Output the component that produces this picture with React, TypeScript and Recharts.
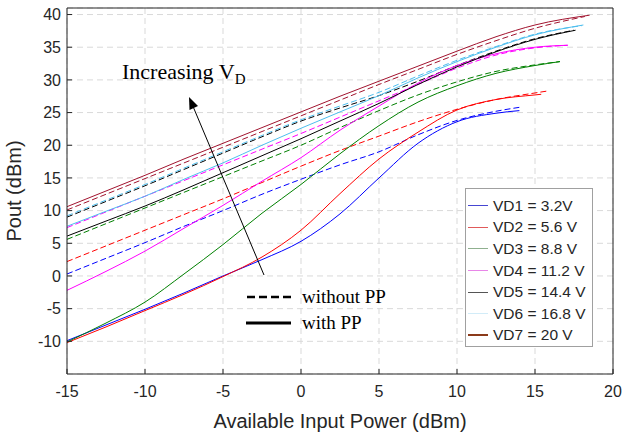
import React from 'react';
import { LineChart, Line, XAxis, YAxis, CartesianGrid, Legend } from 'recharts';

// input power grid (dBm) shared by every curve, each curve adds its own last point
const inputPower = [-15, -12.5, -10, -7.5, -5, -2.5, 0, 2.5, 5, 7.5, 10, 12.5, 15];

// with PP (solid)
const vd1With = [-9.9, -7.5, -5.1, -2.6, 0.0, 2.5, 5.3, 9.5, 15.0, 20.3, 23.6, 24.9];
const vd2With = [-10.2, -7.8, -5.3, -2.8, -0.1, 2.9, 7.0, 12.6, 17.9, 22.0, 25.4, 27.0, 27.7];
const vd3With = [-10.1, -7.2, -4.0, 0.3, 4.8, 9.6, 14.0, 18.7, 23.0, 26.6, 29.1, 31.0, 32.2];
const vd4With = [-2.2, 0.7, 3.8, 7.3, 10.8, 14.5, 18.1, 22.3, 26.0, 29.5, 32.2, 34.0, 35.0];
const vd5With = [6.1, 8.4, 10.7, 13.2, 15.8, 18.4, 21.0, 23.7, 26.4, 29.3, 32.0, 34.3, 36.2];
const vd6With = [7.6, 9.9, 12.2, 14.8, 17.3, 20.0, 22.6, 25.1, 27.6, 30.3, 32.8, 35.0, 36.9];
const vd7With = [10.6, 13.0, 15.4, 17.9, 20.3, 22.7, 25.1, 27.5, 29.8, 32.1, 34.4, 36.6, 38.4];
const withEnds = [[14.0, 25.3], [15.4, 27.8], [16.6, 32.8], [17.1, 35.3], [17.6, 37.6], [18.1, 38.4], [18.5, 39.9]];

// without PP (dashed)
const vd1Without = [0.3, 2.7, 5.1, 7.6, 10.0, 12.5, 14.8, 17.0, 19.0, 21.6, 23.8, 25.2];
const vd2Without = [2.2, 4.6, 7.0, 9.4, 11.8, 14.3, 16.8, 19.2, 21.4, 23.6, 25.5, 27.0, 28.0];
const vd3Without = [5.6, 8.0, 10.4, 12.8, 15.2, 17.6, 20.0, 22.7, 25.3, 27.7, 29.7, 31.3, 32.3];
const vd4Without = [7.4, 9.8, 12.2, 14.6, 17.0, 19.4, 21.8, 24.3, 26.8, 29.3, 31.8, 33.8, 34.9];
const vd5Without = [9.0, 11.4, 13.8, 16.3, 18.8, 21.3, 23.7, 25.7, 27.6, 29.8, 32.2, 34.4, 36.3];
const vd6Without = [9.2, 11.6, 14.0, 16.5, 19.0, 21.5, 23.9, 26.0, 28.1, 30.6, 33.0, 35.1, 37.0];
const vd7Without = [10.1, 12.5, 14.9, 17.3, 19.7, 22.1, 24.5, 26.9, 29.3, 31.6, 33.9, 36.0, 37.9];
const withoutEnds = [[14.0, 25.8], [15.8, 28.3], [16.6, 32.8], [17.1, 35.3], [17.5, 37.6], [18.0, 38.3], [18.2, 39.7]];

const xTicks = [-15, -10, -5, 0, 5, 10, 15, 20];
const yTicks = [-10, -5, 0, 5, 10, 15, 20, 25, 30, 35, 40];

const seriesColors = ['#0000ff', '#ff0000', '#008000', '#ff00ff', '#000000', '#4dbeee', '#a2142f'];
const legendLabels = ['VD1 = 3.2V', 'VD2 = 5.6 V', 'VD3 = 8.8 V', 'VD4 = 11.2 V', 'VD5 = 14.4 V', 'VD6 = 16.8 V', 'VD7 = 20 V'];
const legendColors = ['#4646d2', '#e05a5a', '#8fb08f', '#e886e8', '#555555', '#d2ecf8', '#8b3a1a'];

const withSets = [vd1With, vd2With, vd3With, vd4With, vd5With, vd6With, vd7With];
const withoutSets = [vd1Without, vd2Without, vd3Without, vd4Without, vd5Without, vd6Without, vd7Without];

const toPoints = (vals: number[], end: number[]) => [
  ...vals.map((p, i) => ({ pin: inputPower[i], pout: p })),
  { pin: end[0], pout: end[1] },
];

const font = "'Liberation Sans', Arial, Helvetica, sans-serif";
const serif = "'Liberation Serif', 'Times New Roman', serif";
const axisColor = '#262626';

const LegendBox = () => (
  <div
    style={{
      width: 128,
      height: 159,
      background: '#fff',
      border: '1px solid #a0a0a0',
      fontFamily: font,
      fontSize: 15.5,
      color: '#262626',
      paddingTop: 6,
      boxSizing: 'border-box',
    }}
  >
    {legendLabels.map((label, i) => (
      <div key={label} style={{ display: 'flex', alignItems: 'center', height: 21.6 }}>
        <div style={{ width: 20, height: i === 6 ? 2 : 1, background: legendColors[i], marginLeft: 2, marginRight: 5, flexShrink: 0 }} />
        <span>{label}</span>
      </div>
    ))}
  </div>
);

export default function App() {
  return (
    <div style={{ position: 'absolute', left: 0, top: 0, width: 624, height: 436, background: '#fff' }}>
      <LineChart width={624} height={436} margin={{ top: 0, right: 0, bottom: 0, left: 0 }}>
        <CartesianGrid stroke="#d9d9d9" strokeDasharray="6 4" />
        <XAxis
          dataKey="pin"
          type="number"
          domain={[-15, 20]}
          ticks={xTicks}
          allowDuplicatedCategory={false}
          height={62}
          tickSize={-5}
          tickMargin={17}
          stroke={axisColor}
          tick={{ fill: axisColor, fontSize: 16, fontFamily: font }}
          label={{ value: 'Available Input Power (dBm)', position: 'insideBottom', offset: 8, fill: axisColor, fontSize: 20, fontFamily: font }}
        />
        <XAxis xAxisId="top" orientation="top" type="number" domain={[-15, 20]} ticks={xTicks} height={8} tickSize={-5} tick={false} stroke={axisColor} />
        <YAxis
          type="number"
          domain={[-15, 41]}
          ticks={yTicks}
          width={67}
          tickSize={-5}
          tickMargin={11}
          stroke={axisColor}
          tick={{ fill: axisColor, fontSize: 16, fontFamily: font }}
          label={{ value: 'Pout (dBm)', angle: -90, position: 'insideLeft', offset: 14, fill: axisColor, fontSize: 20, fontFamily: font, style: { textAnchor: 'middle' } }}
        />
        <YAxis yAxisId="right" orientation="right" type="number" domain={[-15, 41]} ticks={yTicks} width={11} tickSize={-5} tick={false} stroke={axisColor} />
        {withoutSets.map((vals, i) => (
          <Line
            key={`wo${i}`}
            data={toPoints(vals, withoutEnds[i])}
            dataKey="pout"
            type="monotone"
            stroke={seriesColors[i]}
            strokeWidth={1}
            strokeDasharray="6 3"
            dot={false}
            legendType="none"
            isAnimationActive={false}
          />
        ))}
        {withSets.map((vals, i) => (
          <Line
            key={`w${i}`}
            data={toPoints(vals, withEnds[i])}
            dataKey="pout"
            type="monotone"
            stroke={seriesColors[i]}
            strokeWidth={1}
            dot={false}
            name={legendLabels[i]}
            isAnimationActive={false}
          />
        ))}
        <Legend
          layout="vertical"
          align="center"
          verticalAlign="middle"
          content={() => <LegendBox />}
          wrapperStyle={{ left: 465, top: 188, width: 128, height: 159 }}
        />
      </LineChart>
      <svg width={624} height={436} style={{ position: 'absolute', left: 0, top: 0, pointerEvents: 'none' }}>
        <line x1={264} y1={275} x2={192} y2={104} stroke="#000" strokeWidth={1} />
        <polygon points="189,97 198,106 189.5,110" fill="#000" />
        <text x={122} y={79} fontFamily={serif} fontSize={22} fill="#000">
          Increasing V<tspan fontSize={15} dy={5}>D</tspan>
        </text>
        <line x1={247} y1={297} x2={292} y2={297} stroke="#000" strokeWidth={2.5} strokeDasharray="8 4" />
        <text x={302} y={303} fontFamily={serif} fontSize={19} fill="#000">without PP</text>
        <line x1={246} y1={323} x2={291} y2={323} stroke="#000" strokeWidth={3} />
        <text x={302} y={329} fontFamily={serif} fontSize={19} fill="#000">with PP</text>
      </svg>
    </div>
  );
}
